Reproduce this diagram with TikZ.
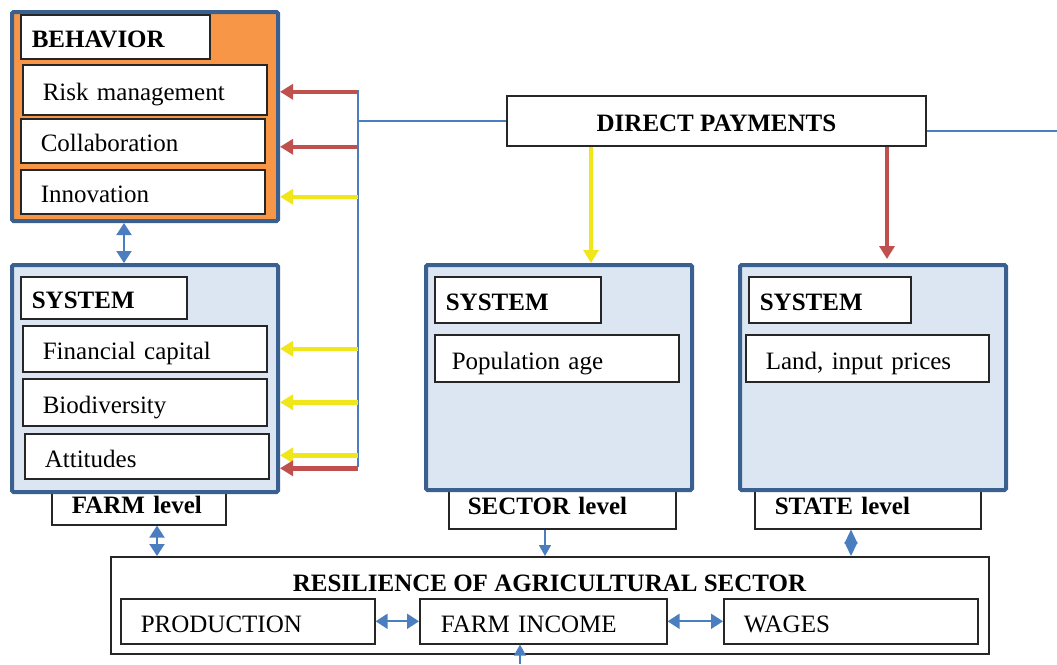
\documentclass[tikz,border=0pt]{standalone}
\usepackage{fontspec}
\setmainfont{Liberation Serif}
\usetikzlibrary{arrows.meta,positioning,calc}

\definecolor{frameblue}{HTML}{3A6090}
\definecolor{behorange}{HTML}{F79646}
\definecolor{syslight}{HTML}{DCE6F2}
\definecolor{payred}{HTML}{C0504D}
\definecolor{payyellow}{HTML}{F0E61A}
\definecolor{linkblue}{HTML}{4A7EBF}

\tikzset{
	frame/.style={draw=frameblue, line width=4pt, rounded corners=1.5pt, anchor=north west, inner sep=0pt},
	item/.style={draw=black!85, line width=1.6pt, fill=white, anchor=north west, align=left, inner xsep=20pt, inner ysep=0pt, text height=22pt, text depth=0pt, font=\fontsize{25}{30}\selectfont},
	head/.style={item, inner xsep=11pt, font=\fontsize{25}{30}\selectfont\bfseries},
	level/.style={item, text height=12pt, font=\fontsize{25}{30}\selectfont\bfseries},
	redarrow/.style={-{Triangle[length=13pt,width=15pt]}, payred, line width=4.5pt},
	yellowarrow/.style={-{Triangle[length=13pt,width=15pt]}, payyellow, line width=4.5pt},
	link/.style={linkblue, line width=1.2pt},
	oneway/.style={-{Triangle[length=11pt,width=12pt]}, linkblue, line width=1.6pt},
	twoway/.style={{Triangle[length=12pt,width=15pt]}-{Triangle[length=12pt,width=15pt]}, linkblue, line width=2pt},
}

\begin{document}
\begin{tikzpicture}[x=1pt, y=-1pt]
	\useasboundingbox (0,0) rectangle (1057,664);

	% level tags sit under the frames
	\node[level, text width=134pt, minimum height=34pt] (flevel) at (51,490) {FARM level};
	\node[level, inner xsep=19pt, text width=189pt, minimum height=40pt] (slevel) at (448,488) {SECTOR level};
	\node[level, text width=186pt, minimum height=40pt] (stlevel) at (754,488) {STATE level};

	% farm behaviour
	\node[frame, fill=behorange, minimum width=266pt, minimum height=209pt] (behavior) at (10,10) {};
	\node[head, text width=167pt, minimum height=44pt] (behhead) at (20,14) {BEHAVIOR};
	\node[item, text width=204pt, minimum height=50pt] (risk) at (22,64) {Risk management};
	\node[item, text width=204pt, minimum height=44pt] (collab) at (20,118) {Collaboration};
	\node[item, text width=204pt, minimum height=44pt] (innov) at (20,169) {Innovation};

	% systems at the three levels
	\node[frame, fill=syslight, minimum width=266pt, minimum height=227pt] (farm) at (10,263) {};
	\node[head, text width=144pt, minimum height=42pt] (farmhead) at (20,276) {SYSTEM};
	\node[item, text width=204pt, minimum height=46pt] (fincap) at (22,325) {Financial capital};
	\node[item, text width=204pt, minimum height=47pt] (biodiv) at (22,378) {Biodiversity};
	\node[item, text width=204pt, minimum height=45pt] (attit) at (24,433) {Attitudes};

	\node[frame, fill=syslight, minimum width=266pt, minimum height=225pt] (sector) at (424,263) {};
	\node[head, text width=144pt, minimum height=46pt] (sechead) at (434,276) {SYSTEM};
	\node[item, inner xsep=17pt, text width=210pt, minimum height=47pt] (popage) at (434,334) {Population age};

	\node[frame, fill=syslight, minimum width=266pt, minimum height=225pt] (state) at (738,263) {};
	\node[head, text width=140pt, minimum height=46pt] (sthead) at (748,276) {SYSTEM};
	\node[item, text width=203pt, minimum height=47pt] (land) at (745,334) {Land, input prices};

	% payments
	\node[draw=black!85, line width=1.6pt, fill=white, minimum width=419pt, minimum height=50pt, text height=20pt, text depth=0pt, font=\fontsize{25}{30}\selectfont\bfseries] (dp) at (716.5,121) {DIRECT PAYMENTS};

	% resilience
	\node[draw=black!85, line width=1.6pt, anchor=north west, minimum width=878pt, minimum height=97pt] (resil) at (110,556) {};
	\node[font=\fontsize{25}{30}\selectfont\bfseries] (restitle) at (549.5,583) {RESILIENCE OF AGRICULTURAL SECTOR};
	\node[item, text width=214pt, minimum height=45pt] (prod) at (120,598) {PRODUCTION};
	\node[item, inner xsep=21pt, text width=205pt, minimum height=45pt] (income) at (419,598) {FARM INCOME};
	\node[item, text width=214pt, minimum height=45pt] (wages) at (723,598) {WAGES};

	\coordinate (bus) at (358,90);
	\coordinate (busend) at (358,467);
	\coordinate (edge) at (1057,131);
	\coordinate (below) at (520,664);

	% payment lines
	\draw[link] (bus) -- (busend);
	\draw[link] (dp.west) -- (dp.west -| bus);
	\draw[link] ([yshift=-10pt]dp.east) -- (edge);

	\draw[redarrow] ($(risk.east -| bus)+(0,2)$) -- ($(risk.east -| behavior.east)+(0,2)$);
	\draw[redarrow] ($(collab.east -| bus)+(0,6)$) -- ($(collab.east -| behavior.east)+(0,6)$);
	\draw[yellowarrow] ($(innov.east -| bus)+(0,5)$) -- ($(innov.east -| behavior.east)+(0,5)$);
	\draw[yellowarrow] (fincap.east -| bus) -- (fincap.east -| farm.east);
	\draw[yellowarrow] (biodiv.east -| bus) -- (biodiv.east -| farm.east);
	\draw[yellowarrow] ($(attit.east -| bus)+(0,-1)$) -- ($(attit.east -| farm.east)+(0,-1)$);
	\draw[redarrow] ($(attit.east -| bus)+(0,12)$) -- ($(attit.east -| farm.east)+(0,12)$);

	\draw[yellowarrow] (dp.south -| 591,0) -- (sector.north -| 591,0);
	\draw[redarrow] (dp.south -| 887,0) -- ($(state.north -| 887,0)+(0,-4)$);

	% links between levels
	\draw[twoway] (behavior.south -| 124,0) -- (farm.north -| 124,0);
	\draw[twoway] (flevel.south -| 157,0) -- (resil.north -| 157,0);
	\draw[oneway] (slevel.south -| 545,0) -- (resil.north -| 545,0);
	\draw[{Triangle[length=14pt,width=13pt]}-{Triangle[length=14pt,width=13pt]}, linkblue, line width=1.5pt] (stlevel.south -| 851,0) -- (resil.north -| 851,0);
	\draw[twoway] (prod.east) -- (income.west);
	\draw[twoway] (income.east) -- (wages.west);
	\draw[oneway] (below) -- (income.south -| below);
\end{tikzpicture}
\end{document}
